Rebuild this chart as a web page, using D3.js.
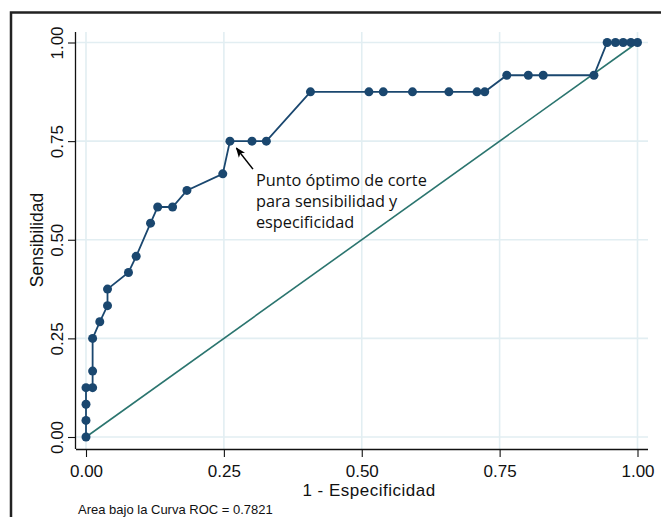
<!DOCTYPE html>
<html>
<head>
<meta charset="utf-8">
<script src="https://cdn.jsdelivr.net/npm/d3@7"></script>
<style>
  html, body { margin: 0; padding: 0; background: #fff; }
  svg { display: block; }
</style>
</head>
<body>
<svg id="chart" width="661" height="517"></svg>
<script>
// Curva ROC: 1 - Especificidad (x) vs Sensibilidad (y)
const fpr = [0, 0, 0, 0, 0.012, 0.012, 0.012, 0.025, 0.039, 0.039, 0.077, 0.091,
  0.117, 0.130, 0.157, 0.183, 0.248, 0.261, 0.301, 0.327, 0.407, 0.513, 0.539,
  0.592, 0.658, 0.709, 0.723, 0.763, 0.802, 0.829, 0.921, 0.945, 0.960, 0.974,
  0.988, 1.0];
const sens = [0, 0.042, 0.083, 0.125, 0.125, 0.167, 0.25, 0.292, 0.333, 0.375,
  0.417, 0.458, 0.542, 0.583, 0.583, 0.625, 0.667, 0.75, 0.75, 0.75, 0.875,
  0.875, 0.875, 0.875, 0.875, 0.875, 0.875, 0.917, 0.917, 0.917, 0.917, 1.0,
  1.0, 1.0, 1.0, 1.0];
const tickValues = [0, 0.25, 0.5, 0.75, 1];
const refLine = [[0, 0], [1, 1]];
const optimo = { x: 0.261, y: 0.75 };
const notaTexto = ["Punto óptimo de corte", "para sensibilidad y", "especificidad"];
const areaTexto = "Area bajo la Curva ROC = 0.7821";

const svg = d3.select("#chart");
const fontAx = "'Liberation Sans', Arial, sans-serif";

const x = d3.scaleLinear().domain([0, 1]).range([86, 637.5]);
const y = d3.scaleLinear().domain([0, 1]).range([437, 42.5]);

const plotLeft = 76, plotRight = 648, plotTop = 32, plotBottom = 449;

// marco exterior
svg.append("path")
  .attr("d", "M11,520 V12.5 H664")
  .attr("fill", "none")
  .attr("stroke", "#222")
  .attr("stroke-width", 2.5);

// rejilla
const grid = svg.append("g");
grid.selectAll("line.h")
  .data(tickValues)
  .enter().append("line")
    .attr("x1", plotLeft).attr("x2", plotRight)
    .attr("y1", d => y(d)).attr("y2", d => y(d))
    .attr("stroke", "#e2eef2").attr("stroke-width", 1.6);
grid.selectAll("line.v")
  .data(tickValues)
  .enter().append("line")
    .attr("y1", plotTop).attr("y2", plotBottom)
    .attr("x1", d => x(d)).attr("x2", d => x(d))
    .attr("stroke", "#e2eef2").attr("stroke-width", 1.6);

// ejes
const xAxis = svg.append("g")
  .attr("transform", `translate(0,${plotBottom})`)
  .call(d3.axisBottom(x).tickValues(tickValues).tickFormat(d3.format(".2f"))
    .tickSizeInner(8).tickSizeOuter(0).tickPadding(3));
xAxis.select(".domain").attr("d", `M${plotLeft},0.5H${plotRight}`)
  .attr("stroke", "#111").attr("stroke-width", 1.3);
xAxis.selectAll(".tick line").attr("stroke", "#111").attr("stroke-width", 1.1);
xAxis.selectAll(".tick text")
  .attr("font-family", fontAx).attr("font-size", 17).attr("fill", "#111")
  .attr("dy", null).attr("y", 27.5);

const yAxis = svg.append("g")
  .attr("transform", `translate(${plotLeft},0)`)
  .call(d3.axisLeft(y).tickValues(tickValues).tickFormat(d3.format(".2f"))
    .tickSizeInner(8).tickSizeOuter(0));
yAxis.select(".domain").attr("d", `M-0.5,${plotTop}V${plotBottom}`)
  .attr("stroke", "#111").attr("stroke-width", 1.3);
yAxis.selectAll(".tick line").attr("stroke", "#111").attr("stroke-width", 1.1);
yAxis.selectAll(".tick text")
  .attr("font-family", fontAx).attr("font-size", 17).attr("fill", "#111")
  .attr("x", null).attr("dy", null)
  .attr("text-anchor", "middle")
  .attr("transform", "translate(-13.5,0) rotate(-90)");

// títulos de ejes
svg.append("text")
  .attr("x", 369).attr("y", 495.5)
  .attr("text-anchor", "middle")
  .attr("font-family", fontAx).attr("font-size", 17)
  .attr("letter-spacing", 0.5).attr("fill", "#111")
  .text("1 - Especificidad");

svg.append("text")
  .attr("transform", "translate(43,240) rotate(-90)")
  .attr("text-anchor", "middle")
  .attr("font-family", fontAx).attr("font-size", 17.5)
  .attr("fill", "#111")
  .text("Sensibilidad");

// línea de referencia
svg.append("path")
  .datum(refLine)
  .attr("d", d3.line().x(d => x(d[0])).y(d => y(d[1])))
  .attr("fill", "none")
  .attr("stroke", "#2b756f")
  .attr("stroke-width", 1.6);

// curva ROC
const roc = fpr.map((v, i) => ({ fx: v, se: sens[i] }));
svg.append("path")
  .datum(roc)
  .attr("d", d3.line().x(d => x(d.fx)).y(d => y(d.se)))
  .attr("fill", "none")
  .attr("stroke", "#1a476f")
  .attr("stroke-width", 1.8);

svg.selectAll("circle.pt")
  .data(roc)
  .enter().append("circle")
    .attr("class", "pt")
    .attr("cx", d => x(d.fx))
    .attr("cy", d => y(d.se))
    .attr("r", 4.5)
    .attr("fill", "#1a476f");

// anotación
svg.append("defs").append("marker")
  .attr("id", "flecha")
  .attr("viewBox", "0 0 10 10")
  .attr("refX", 9).attr("refY", 5)
  .attr("markerWidth", 10).attr("markerHeight", 10)
  .attr("markerUnits", "userSpaceOnUse")
  .attr("orient", "auto")
  .append("path")
    .attr("d", "M0,1 L10,5 L0,9 L2.5,5 Z")
    .attr("fill", "#000");

const ox = x(optimo.x), oy = y(optimo.y);
svg.append("line")
  .attr("x1", ox + 23).attr("y1", oy + 28)
  .attr("x2", ox + 6.5).attr("y2", oy + 7)
  .attr("stroke", "#000").attr("stroke-width", 1.6)
  .attr("marker-end", "url(#flecha)");

svg.append("g")
  .selectAll("text")
  .data(notaTexto)
  .enter().append("text")
    .attr("x", ox + 26)
    .attr("y", (d, i) => oy + 44.5 + i * 21)
    .attr("font-family", "'Open Sans', sans-serif")
    .attr("font-size", 16.3)
    .attr("fill", "#111")
    .text(d => d);

// nota inferior
svg.append("text")
  .attr("x", 78).attr("y", 514)
  .attr("font-family", fontAx).attr("font-size", 13)
  .attr("fill", "#111")
  .text(areaTexto);
</script>
</body>
</html>
